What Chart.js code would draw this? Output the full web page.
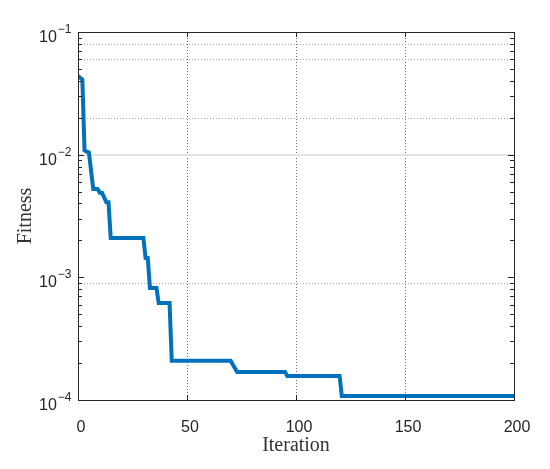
<!DOCTYPE html>
<html>
<head>
<meta charset="utf-8">
<script src="https://cdn.jsdelivr.net/npm/chart.js@4/dist/chart.umd.min.js"></script>
<style>
  html, body { margin: 0; padding: 0; background: #fff; }
  #grafica { display: block; }
</style>
</head>
<body>
<canvas id="grafica"></canvas>
<script>
// Datos (iteración, fitness)
const iteraciones = [0, 2, 3, 5, 7, 9, 10, 11, 13, 14, 15, 30, 31, 32, 33, 36, 37, 42, 43, 70, 71, 73, 95, 96, 120, 121, 200];
const fitness = [0.0438, 0.041, 0.0108, 0.0104, 0.00525, 0.00525, 0.0049, 0.0049, 0.0041, 0.0041, 0.00209,
                 0.00209, 0.00144, 0.00144, 0.00082, 0.00082, 0.000618, 0.000618, 0.000209, 0.000209, 0.000195,
                 0.000169, 0.000169, 0.000157, 0.000157, 0.000108, 0.000108];

const ticksX = [0, 50, 100, 150, 200];
const exponentesY = [-4, -3, -2, -1];
const gridVertical = [50, 100, 150];
const gridHorizontalPunteado = [0.08, 0.06, 0.02, 0.0009];
const gridHorizontalSolido = [0.01];

const colorEje = "#262626";

// Dibuja rejilla, marco, marcas interiores y etiquetas 10^n
const marcoPlugin = {
    id: "marco",
    beforeDatasetsDraw(chart) {
        const { ctx, chartArea: a, scales } = chart;
        const x = scales.x, y = scales.y;
        ctx.save();
        ctx.lineWidth = 1;
        ctx.setLineDash([1, 2]);
        ctx.strokeStyle = "#707070";
        gridVertical.forEach(v => {
            const px = Math.round(x.getPixelForValue(v)) + 0.5;
            ctx.beginPath(); ctx.moveTo(px, a.top); ctx.lineTo(px, a.bottom); ctx.stroke();
        });
        ctx.strokeStyle = "#a8a8a8";
        gridHorizontalPunteado.forEach(v => {
            const py = Math.round(y.getPixelForValue(v)) + 0.5;
            ctx.beginPath(); ctx.moveTo(a.left, py); ctx.lineTo(a.right, py); ctx.stroke();
        });
        ctx.setLineDash([]);
        ctx.strokeStyle = "#e4e4e4";
        ctx.lineWidth = 2;
        gridHorizontalSolido.forEach(v => {
            const py = Math.round(y.getPixelForValue(v));
            ctx.beginPath(); ctx.moveTo(a.left, py); ctx.lineTo(a.right, py); ctx.stroke();
        });
        ctx.restore();
    },
    afterDatasetsDraw(chart) {
        const { ctx, chartArea: a, scales } = chart;
        const x = scales.x, y = scales.y;
        ctx.save();
        ctx.strokeStyle = colorEje;
        ctx.lineWidth = 1;
        ctx.strokeRect(Math.round(a.left) + 0.5, Math.round(a.top) + 0.5,
                       Math.round(a.right - a.left), Math.round(a.bottom - a.top));

        // marcas del eje y (mayores y menores)
        exponentesY.forEach(e => {
            for (let m = 1; m <= 9; m++) {
                const v = m * Math.pow(10, e);
                if (v > 0.1 + 1e-12) continue;
                const py = Math.round(y.getPixelForValue(v)) + 0.5;
                const len = m === 1 ? 6 : 4;
                ctx.beginPath();
                ctx.moveTo(a.left, py); ctx.lineTo(a.left + len, py);
                ctx.moveTo(a.right, py); ctx.lineTo(a.right - len, py);
                ctx.stroke();
            }
        });
        // marcas del eje x
        ticksX.forEach(v => {
            const px = Math.round(x.getPixelForValue(v)) + 0.5;
            ctx.beginPath();
            ctx.moveTo(px, a.bottom); ctx.lineTo(px, a.bottom - 5);
            ctx.moveTo(px, a.top); ctx.lineTo(px, a.top + 5);
            ctx.stroke();
        });

        // etiquetas 10^n
        ctx.fillStyle = colorEje;
        ctx.textAlign = "left";
        ctx.textBaseline = "alphabetic";
        exponentesY.forEach(e => {
            const py = y.getPixelForValue(Math.pow(10, e));
            ctx.font = "16px 'Liberation Sans', Arial, sans-serif";
            ctx.fillText("10", 39, py + 10);
            const w = ctx.measureText("10").width;
            ctx.font = "12px 'Liberation Sans', Arial, sans-serif";
            ctx.fillText("\u2212" + Math.abs(e), 39 + w + 1, py + 1);
        });
        ctx.restore();
    }
};

const canvas = document.getElementById("grafica");
canvas.width = 550;
canvas.height = 469;

new Chart(canvas, {
    type: "line",
    data: {
        datasets: [{
            label: "Fitness",
            data: iteraciones.map((it, i) => ({ x: it, y: fitness[i] })),
            borderColor: "#0072BD",
            backgroundColor: "#0072BD",
            borderWidth: 4,
            pointRadius: 0,
            tension: 0,
            borderJoinStyle: "miter"
        }]
    },
    options: {
        responsive: false,
        animation: false,
        layout: { padding: { left: 0, right: 36, top: 32, bottom: 0 } },
        plugins: {
            legend: { display: false },
            tooltip: { enabled: false }
        },
        scales: {
            x: {
                type: "linear",
                min: 0,
                max: 200,
                afterBuildTicks: scale => { scale.ticks = ticksX.map(v => ({ value: v })); },
                afterFit: scale => { scale.height = 69; },
                grid: { display: false },
                border: { display: false },
                ticks: {
                    color: colorEje,
                    padding: 10,
                    labelOffset: 3,
                    maxRotation: 0,
                    font: { family: "'Liberation Sans', Arial, sans-serif", size: 16 }
                },
                title: {
                    display: true,
                    text: "Iteration",
                    color: "#333",
                    padding: { top: 0, bottom: 11 },
                    font: { family: "'Liberation Serif', 'Times New Roman', serif", size: 20 }
                }
            },
            y: {
                type: "logarithmic",
                min: 1e-4,
                max: 1e-1,
                afterFit: scale => { scale.width = 78; },
                grid: { display: false },
                border: { display: false },
                ticks: { display: false },
                title: {
                    display: true,
                    text: "Fitness",
                    color: "#333",
                    padding: { top: 14, bottom: 0 },
                    font: { family: "'Liberation Serif', 'Times New Roman', serif", size: 20 }
                }
            }
        }
    },
    plugins: [marcoPlugin]
});
</script>
</body>
</html>
